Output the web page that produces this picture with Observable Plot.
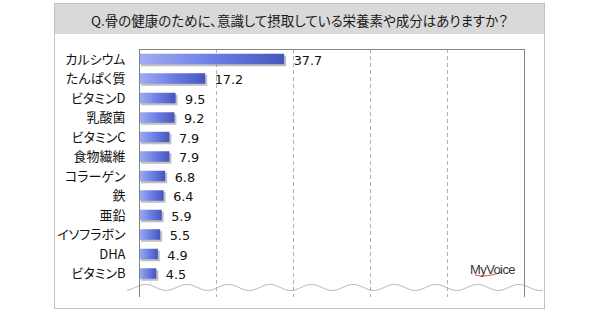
<!DOCTYPE html>
<html>
<head>
<meta charset="utf-8">
<script src="https://cdn.jsdelivr.net/npm/d3@7"></script>
<script src="https://cdn.jsdelivr.net/npm/@observablehq/plot@0.6"></script>
<style>
  html, body { margin: 0; padding: 0; background: #fff; }
  #wrap { position: relative; width: 600px; height: 312px; overflow: hidden; }
  #frame { position: absolute; left: 54px; top: 3px; width: 489px; height: 304px; border: 1px solid #c0c0c0; box-sizing: content-box; }
  #title { position: absolute; left: 55px; top: 4px; width: 489px; height: 30px; background: #d9d9d9;
           font-family: "Noto Sans CJK JP", sans-serif; font-size: 13.5px; color: #1a1a1a;
           line-height: 32px; text-align: center; font-feature-settings: "palt"; }
  #chart { position: absolute; left: 0; top: 0; }
  #logo { position: absolute; left: 470px; top: 262px; font-family: "Liberation Sans", Arial, sans-serif;
          font-size: 13px; letter-spacing: -0.6px; color: #3a3a3a; }
  #swoosh { position: absolute; left: 474px; top: 270px; }
  svg text { font-feature-settings: "palt"; }
</style>
</head>
<body>
<div id="wrap">
  <div id="frame"></div>
  <div id="title">Q.骨の健康のために、意識して摂取している栄養素や成分はありますか？</div>
  <div id="chart"></div>
  <svg id="swoosh" width="30" height="8"><path d="M1,5 Q12,8 28,2" fill="none" stroke="#d9534f" stroke-width="1"/></svg>
  <div id="logo">MyVoice</div>
</div>
<script>
const categories = ["カルシウム","たんぱく質","ビタミンD","乳酸菌","ビタミンC","食物繊維","コラーゲン","鉄","亜鉛","イソフラボン","DHA","ビタミンB"];
const values = [37.7, 17.2, 9.5, 9.2, 7.9, 7.9, 6.8, 6.4, 5.9, 5.5, 4.9, 4.5];
const gridTicks = [20, 40, 60, 80];

const data = categories.map((c, i) => ({cat: c, i, value: values[i]}));

// decorative "axis break" wave (not data)
const waveBreak = d3.range(-3.1, 104.8, 0.2).map(v => ({x: v, y: 11.69 - 0.154 * Math.cos(2 * Math.PI * (v - 1.56) / 10.78)}));

const yTop = -0.513, yBottom = 12.205;
const half = 0.27;

const defs = () => {
  const d = d3.create("svg:defs");
  const g = d.append("linearGradient").attr("id", "barGrad").attr("x1", 0).attr("x2", 1).attr("y1", 0).attr("y2", 0);
  g.append("stop").attr("offset", "0%").attr("stop-color", "#a3adf1");
  g.append("stop").attr("offset", "50%").attr("stop-color", "#6d7fe6");
  g.append("stop").attr("offset", "100%").attr("stop-color", "#4557bd");
  const f = d.append("filter").attr("id", "shadowBlur").attr("x", "-20%").attr("y", "-50%").attr("width", "140%").attr("height", "200%");
  f.append("feGaussianBlur").attr("stdDeviation", 1);
  return d.node();
};

const plot = Plot.plot({
  width: 600,
  height: 312,
  marginLeft: 139,
  marginRight: 76,
  marginTop: 49,
  marginBottom: 15,
  style: {background: "transparent", overflow: "visible"},
  x: {domain: [0, 100], axis: null},
  y: {domain: [yTop, yBottom], reverse: true, axis: null},
  marks: [
    defs,
    Plot.ruleX(gridTicks, {y1: yTop, y2: yBottom, stroke: "#b3b3b3", strokeDasharray: "4,3", strokeWidth: 1}),
    Plot.line(waveBreak, {x: "x", y: "y", stroke: "#b0b0b0", strokeWidth: 1, curve: "natural"}),
    Plot.ruleY([yTop], {x1: 0, x2: 100, stroke: "#858585", strokeWidth: 1}),
    Plot.ruleX([100], {y1: yTop, y2: yBottom, stroke: "#858585", strokeWidth: 1}),
    Plot.rectX(data, {x1: 0, x2: "value", y1: d => d.i - half, y2: d => d.i + half, dx: 2, dy: 2, fill: "#8c8c8c", fillOpacity: 0.55, ariaLabel: "shadow"}),
    Plot.rectX(data, {x1: 0, x2: "value", y1: d => d.i - half, y2: d => d.i + half, fill: "url(#barGrad)", ariaLabel: "bars"}),
    Plot.ruleX([0], {y1: yTop, y2: yBottom, stroke: "#808080", strokeWidth: 1}),
    Plot.axisY({ticks: categories.map((c, i) => i), tickFormat: i => categories[i], tickSize: 0, tickPadding: 14,
                fontSize: 13, fontFamily: "Noto Sans CJK JP", fill: "#111"}),
    Plot.text(data, {x: "value", y: "i", text: d => d.value.toFixed(1), dx: 9, dy: 1, textAnchor: "start",
                     fontSize: 12.8, fontFamily: "DejaVu Sans", fill: "#111"})
  ]
});
const sh = plot.querySelector('g[aria-label="shadow"]');
if (sh) sh.setAttribute("filter", "url(#shadowBlur)");
document.getElementById("chart").appendChild(plot);
</script>
</body>
</html>
